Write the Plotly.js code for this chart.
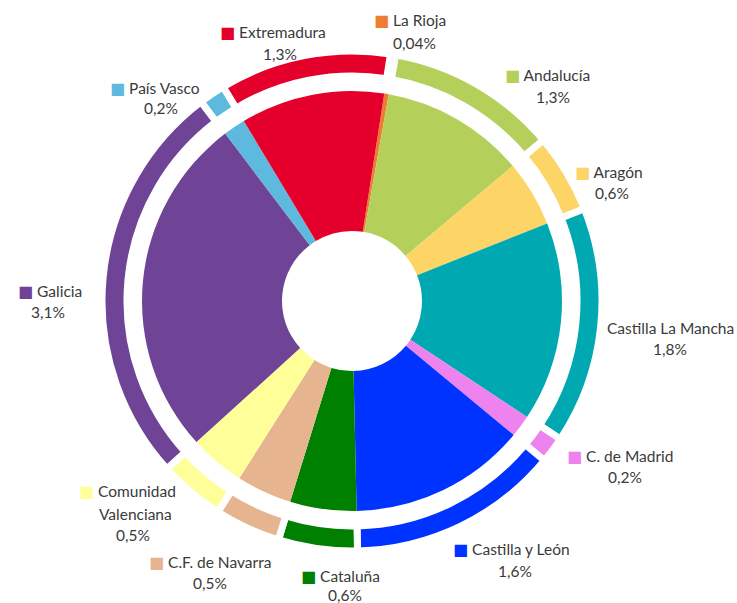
<!DOCTYPE html>
<html>
<head>
<meta charset="utf-8">
<script src="https://cdn.plot.ly/plotly-3.0.1.min.js"></script>
<style>html,body{margin:0;padding:0;background:#fff;}#chart{width:737px;height:603px;}</style>
</head>
<body>
<div id="chart"></div>
<script>
// ---- data ----
const regions = ["La Rioja","Andalucía","Aragón","Castilla La Mancha","C. de Madrid","Castilla y León","Cataluña","C.F. de Navarra","Comunidad Valenciana","Galicia","País Vasco","Extremadura"];
const shares = [0.04, 1.3, 0.6, 1.8, 0.2, 1.6, 0.6, 0.5, 0.5, 3.1, 0.2, 1.3];
const nameLines = [["La Rioja"],["Andalucía"],["Aragón"],["Castilla La Mancha"],["C. de Madrid"],["Castilla y León"],["Cataluña"],["C.F. de Navarra"],["Comunidad","Valenciana"],["Galicia"],["País Vasco"],["Extremadura"]];

// ---- styles / layout ----
const colors = ["#ED7D31","#B5CF5B","#FDD567","#00A9B2","#EE82EE","#0033FF","#008000","#E6B590","#FFFF99","#6F4496","#5EB9DE","#E4002B"];
const W = 737, H = 603;
const cx = 352, cy = 301;
const rInner = 210, rHole = 70;
const rRing = 250, rRingHole = 225;
// label positions in pixels: [square left x, first line y, value center x, value y]
const labelPos = [[372,21,414,43],[503,75,553,97],[573,172,612,193],[670,328,670,349],[565,456,625,477],[451,549,515,571],[299,576,345,595],[147,562,210,583],[77,492,133,535],[16,291,48,312],[108,88,161,108],[218,33,280,54]];
const hasSquare = [true,true,true,false,true,true,true,true,true,true,true,true];
const rotationDeg = 8.85;

function dom(r){
  return {x:[(cx-r)/W,(cx+r)/W], y:[(H-cy-r)/H,(H-cy+r)/H]};
}
const fontFam = "Lato, 'Open Sans', sans-serif";
const txtColor = "#3a3a3a";
const fs = 15.5;

const inner = {
  type:'pie', values:shares, labels:regions, sort:false, direction:'clockwise',
  rotation:rotationDeg, hole:rHole/rInner, domain:dom(rInner),
  marker:{colors:colors, line:{width:0}}, textinfo:'none', hoverinfo:'label+value',
  showlegend:false
};
const outer = {
  type:'pie', values:shares, labels:regions, sort:false, direction:'clockwise',
  rotation:rotationDeg, hole:rRingHole/rRing, domain:dom(rRing),
  marker:{colors:colors, line:{width:7,color:'#ffffff'}}, textinfo:'none', hoverinfo:'label+value',
  showlegend:false
};

const annotations = [];
function px(x){return x/W;} function py(y){return 1-y/H;}
regions.forEach((r,i)=>{
  const p = labelPos[i];
  const lines = nameLines[i];
  if(hasSquare[i]){
    annotations.push({xref:'paper',yref:'paper',x:px(p[0]),y:py(p[1]),xanchor:'left',yanchor:'middle',showarrow:false,
      text:'<span style="color:'+colors[i]+';font-size:16px;font-family:DejaVu Sans">■</span> '+lines[0],font:{family:fontFam,size:fs,color:txtColor}});
  } else {
    annotations.push({xref:'paper',yref:'paper',x:px(p[0]),y:py(p[1]),xanchor:'center',yanchor:'middle',showarrow:false,
      text:lines[0],font:{family:fontFam,size:fs,color:txtColor}});
  }
  for(let k=1;k<lines.length;k++){
    const yy = p[1] + (p[3]-p[1])*k/lines.length;
    annotations.push({xref:'paper',yref:'paper',x:px(p[2]+2),y:py(yy),xanchor:'center',yanchor:'middle',showarrow:false,
      text:lines[k],font:{family:fontFam,size:fs,color:txtColor}});
  }
  annotations.push({xref:'paper',yref:'paper',x:px(p[2]),y:py(p[3]),xanchor:'center',yanchor:'middle',showarrow:false,
    text:String(shares[i]).replace('.',',')+'%',font:{family:fontFam,size:fs,color:txtColor}});
});

const layout = {
  width:W, height:H, margin:{l:0,r:0,t:0,b:0},
  paper_bgcolor:'#ffffff', plot_bgcolor:'#ffffff',
  showlegend:false, annotations:annotations
};
Plotly.newPlot('chart',[outer,inner],layout,{displayModeBar:false,staticPlot:true});
</script>
</body>
</html>
